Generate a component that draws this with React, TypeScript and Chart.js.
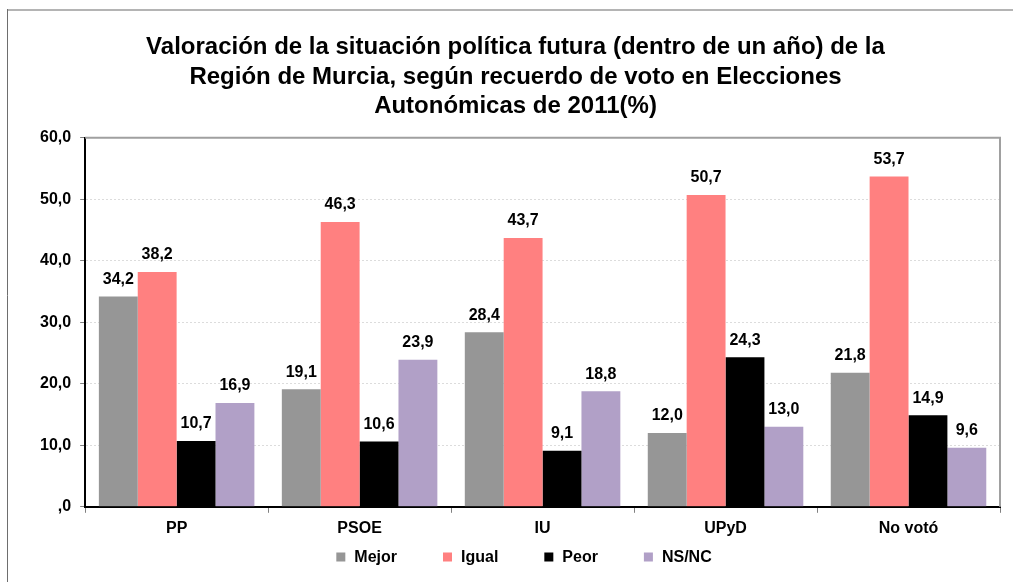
import React, { useEffect, useRef } from "react";
import { Chart, registerables } from "chart.js";

Chart.register(...registerables);

const categories = ["PP", "PSOE", "IU", "UPyD", "No votó"];
const seriesNames = ["Mejor", "Igual", "Peor", "NS/NC"];
const mejor = [34.2, 19.1, 28.4, 12.0, 21.8];
const igual = [38.2, 46.3, 43.7, 50.7, 53.7];
const peor = [10.7, 10.6, 9.1, 24.3, 14.9];
const nsnc = [16.9, 23.9, 18.8, 13.0, 9.6];
const seriesColors = ["#969696", "#FF8080", "#000000", "#B1A0C7"];
const titleLines = [
  "Valoración de la situación política futura (dentro de un año) de la",
  "Región de Murcia, según recuerdo de voto en Elecciones",
  "Autonómicas de 2011(%)",
];

const fmt = (v: number) => {
  const s = v.toFixed(1).replace(".", ",");
  return s.startsWith("0,") ? s.slice(1) : s;
};

const FONT = "'Liberation Sans', Arial, sans-serif";

const framePlugin = {
  id: "frame",
  beforeDraw(chart: any) {
    const ctx = chart.ctx;
    ctx.save();
    ctx.fillStyle = "#ffffff";
    ctx.fillRect(0, 0, chart.width, chart.height);
    ctx.strokeStyle = "#b4b4b4";
    ctx.lineWidth = 2;
    ctx.beginPath();
    ctx.moveTo(7, 10);
    ctx.lineTo(chart.width, 10);
    ctx.stroke();
    ctx.strokeStyle = "#6e6e6e";
    ctx.lineWidth = 1;
    ctx.beginPath();
    ctx.moveTo(7.5, 9);
    ctx.lineTo(7.5, chart.height);
    ctx.stroke();
    ctx.restore();
  },
  afterDatasetsDraw(chart: any) {
    const ctx = chart.ctx;
    const a = chart.chartArea;
    ctx.save();
    ctx.strokeStyle = "#a0a0a0";
    ctx.lineWidth = 2;
    ctx.beginPath();
    ctx.moveTo(a.left, a.top);
    ctx.lineTo(a.right, a.top);
    ctx.lineTo(a.right, a.bottom);
    ctx.stroke();
    ctx.font = `bold 16px ${FONT}`;
    ctx.fillStyle = "#000";
    ctx.textAlign = "center";
    ctx.textBaseline = "bottom";
    chart.data.datasets.forEach((ds: any, i: number) => {
      const meta = chart.getDatasetMeta(i);
      meta.data.forEach((bar: any, j: number) => {
        ctx.fillText(fmt(ds.data[j]), bar.x, bar.y - 9);
      });
    });
    // legend
    const box = 9, gap = 9, spacing = 46;
    const widths = chart.data.datasets.map((ds: any) => ctx.measureText(ds.label).width);
    const total = widths.reduce((s: number, w: number) => s + box + gap + w, 0) + spacing * (widths.length - 1);
    let x = 524 - total / 2;
    const y = 557;
    ctx.textAlign = "left";
    ctx.textBaseline = "middle";
    chart.data.datasets.forEach((ds: any, i: number) => {
      ctx.fillStyle = ds.backgroundColor;
      ctx.fillRect(x, y - box / 2, box, box);
      ctx.fillStyle = "#000";
      ctx.fillText(ds.label, x + box + gap, y + 1);
      x += box + gap + widths[i] + spacing;
    });
    ctx.restore();
  },
};

export default function App() {
  const ref = useRef<HTMLCanvasElement>(null);
  useEffect(() => {
    const seriesData = [mejor, igual, peor, nsnc];
    const chart = new Chart(ref.current!, {
      type: "bar",
      data: {
        labels: categories,
        datasets: seriesNames.map((n, i) => ({
          label: n,
          data: seriesData[i],
          backgroundColor: seriesColors[i],
          borderWidth: 0,
          categoryPercentage: 0.85,
          barPercentage: 1,
        })),
      },
      options: {
        animation: false,
        responsive: true,
        maintainAspectRatio: false,
        layout: { padding: { left: 31, right: 13, top: 0, bottom: 38 } },
        plugins: {
          title: {
            display: true,
            text: titleLines,
            color: "#000",
            font: { family: FONT, size: 24, weight: "bold", lineHeight: 1.22 },
            padding: { top: 33, bottom: 17 },
          },
          legend: { display: false },
          tooltip: { enabled: false },
        },
        scales: {
          x: {
            grid: {
              drawOnChartArea: false,
              drawTicks: true,
              tickLength: 6,
              tickColor: "#808080",
            },
            border: { display: true, color: "#000", width: 2 },
            ticks: {
              color: "#000",
              font: { family: FONT, size: 16, weight: "bold" },
              padding: 6,
            },
          },
          y: {
            min: 0,
            max: 60,
            grid: {
              color: "#dcdcdc",
              tickLength: 5,
              tickColor: "#808080",
              tickBorderDash: [],
            },
            border: { display: true, color: "#000", width: 2, dash: [2, 2] },
            ticks: {
              stepSize: 10,
              color: "#000",
              padding: 9,
              font: { family: FONT, size: 16, weight: "bold" },
              callback: (v: any) => fmt(Number(v)),
            },
          },
        },
      },
      plugins: [framePlugin],
    });
    return () => chart.destroy();
  }, []);
  return (
    <div style={{ position: "fixed", left: 0, top: 0, width: 1013, height: 582 }}>
      <canvas ref={ref} />
    </div>
  );
}
